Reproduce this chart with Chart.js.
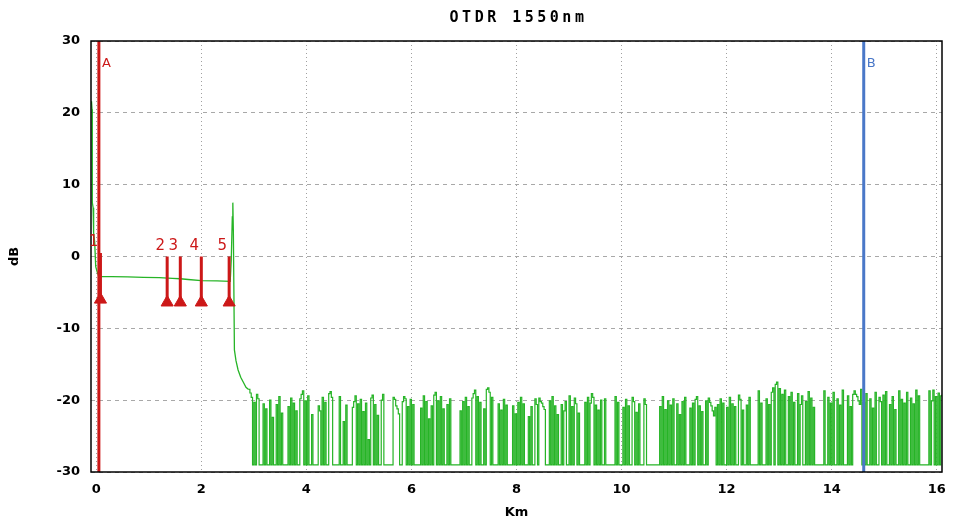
<!DOCTYPE html>
<html>
<head>
<meta charset="utf-8">
<script src="https://cdn.jsdelivr.net/npm/chart.js@4.4.1/dist/chart.umd.min.js"></script>
<style>
  html, body { margin: 0; padding: 0; background: #fff; }
  #wrap { width: 957px; height: 520px; }
</style>
</head>
<body>
<div id="wrap"><canvas id="otdr"></canvas></div>
<script>
var titleText = 'OTDR 1550nm';
var xTicks = [0, 2, 4, 6, 8, 10, 12, 14, 16];
var yTicks = [30, 20, 10, 0, -10, -20, -30];

// launch spike, fibre section, end reflection and fall-off
var headKm = [-0.09, -0.08, -0.075, -0.06, -0.05, -0.03, -0.01, 0.02, 0.05, 0.3, 0.6, 0.9, 1.2, 1.45, 1.6, 1.75, 2.0, 2.3, 2.55,
              2.57, 2.59, 2.6, 2.61, 2.63, 2.66, 2.7, 2.75, 2.8, 2.85, 2.9];
var headDb = [21.6, 20.5, 7.5, 6.8, 3.3, 2.0, -1.4, -2.2, -2.8, -2.8, -2.85, -2.9, -2.95, -3.05, -3.1, -3.2, -3.35, -3.4, -3.45,
              -0.5, 5.5, 7.5, 3.5, -13, -14.5, -15.8, -16.8, -17.5, -18.2, -18.5];

// noise floor after the fibre end, one sample every 0.025 km from 2.9 km
var noiseStart = 2.9;
var noiseStep = 0.025;
var noiseDb = [-18.5,
  -19.0,-19.6,-29,-20.3,-29,-19.2,-19.8,-29,-29,-29, -20.5,-29,-21.2,-29,-29,-20.0,-29,-22.4,-29,-29,
  -20.6,-29,-19.5,-29,-21.8,-29,-29,-29,-29,-20.9, -29,-19.7,-29,-20.4,-29,-21.5,-29,-29,-19.8,-19.2,
  -18.7,-29,-20.1,-29,-19.4,-29,-29,-22.0,-29,-29, -29,-29,-20.8,-21.5,-29,-19.6,-29,-20.3,-29,-29,
  -19.1,-18.8,-19.6,-29,-29,-29,-29,-29,-19.5,-29, -29,-23.0,-29,-20.7,-29,-29,-29,-29,-21.0,-20.2,
  -19.4,-29,-20.5,-29,-19.9,-29,-21.6,-29,-20.4,-29, -25.5,-29,-19.7,-19.3,-29,-20.6,-29,-22.1,-29,-29,
  -20.0,-19.2,-29,-29,-29,-29,-29,-29,-29,-19.6, -19.9,-20.8,-21.2,-21.9,-29,-29,-20.2,-19.5,-19.8,-29,
  -20.9,-29,-19.9,-29,-20.6,-29,-29,-29,-29,-29, -21.1,-29,-19.4,-29,-20.2,-29,-22.6,-29,-20.8,-29,
  -19.3,-18.9,-29,-20.1,-29,-19.5,-29,-21.2,-29,-29, -20.6,-29,-19.8,-29,-29,-29,-29,-29,-29,-29,
  -21.5,-29,-20.2,-29,-19.6,-29,-20.9,-29,-29,-19.7, -19.1,-18.6,-29,-19.5,-29,-20.3,-29,-29,-21.2,-29,
  -18.5,-18.3,-18.9,-29,-19.6,-29,-29,-29,-29,-20.5, -29,-21.4,-29,-19.9,-29,-20.7,-29,-29,-29,-29,
  -20.8,-29,-21.9,-29,-20.3,-29,-19.6,-29,-20.5,-29, -29,-29,-22.3,-29,-20.9,-29,-29,-19.8,-20.6,-29,
  -19.7,-20.2,-20.4,-20.9,-21.3,-29,-29,-29,-20.1,-29, -19.5,-29,-20.8,-29,-22.0,-29,-29,-20.6,-29,-21.5,
  -20.2,-29,-29,-19.4,-29,-20.9,-29,-19.7,-20.5,-29, -21.8,-29,-29,-29,-29,-20.3,-29,-19.6,-29,-20.4,
  -19.1,-19.6,-29,-20.7,-29,-21.4,-29,-20.0,-29,-29, -19.8,-29,-29,-29,-29,-29,-29,-29,-19.5,-29,
  -20.3,-29,-29,-29,-21.0,-29,-19.9,-29,-20.8,-29, -29,-19.6,-20.2,-29,-21.7,-29,-20.5,-29,-29,-29,
  -19.8,-20.6,-29,-29,-29,-29,-29,-29,-29,-29, -29,-29,-20.9,-29,-19.5,-29,-21.3,-29,-20.1,-29,
  -20.7,-29,-19.8,-29,-29,-20.5,-29,-22.0,-29,-20.2, -29,-19.6,-29,-29,-29,-21.1,-29,-20.4,-29,-19.9,
  -19.5,-29,-20.8,-29,-21.6,-29,-29,-20.1,-29,-19.7, -20.3,-20.8,-21.5,-22.2,-21.0,-29,-20.6,-29,-19.8,-29,
  -20.4,-29,-29,-21.0,-29,-19.6,-29,-20.5,-29,-20.9, -29,-29,-19.3,-19.9,-29,-21.4,-29,-29,-20.7,-29,
  -19.6,-29,-29,-29,-29,-29,-29,-18.7,-29,-20.4, -29,-29,-29,-19.8,-29,-20.6,-29,-18.9,-18.3,-29,
  -17.8,-17.5,-29,-18.4,-29,-19.2,-29,-18.6,-29,-29, -19.5,-29,-18.9,-29,-20.3,-29,-29,-19.1,-29,-20.6,
  -19.4,-29,-29,-20.2,-29,-18.8,-29,-19.7,-29,-21.0, -29,-29,-29,-29,-29,-29,-29,-18.7,-29,-29,
  -19.6,-29,-20.4,-29,-18.9,-29,-29,-19.8,-29,-20.7, -29,-18.6,-29,-29,-29,-19.4,-29,-20.9,-29,-19.2,
  -18.7,-19.2,-19.5,-20.1,-20.6,-18.5,-29,-20.3,-29,-19.1, -29,-29,-19.8,-29,-21.1,-29,-18.9,-29,-29,-19.6,
  -20.2,-29,-19.3,-29,-18.8,-29,-29,-20.6,-29,-19.5, -29,-21.3,-29,-29,-18.7,-29,-19.9,-29,-20.4,-29,
  -18.9,-29,-29,-19.7,-29,-20.5,-29,-18.6,-29,-19.4, -29,-29,-29,-29,-29,-29,-29,-18.7,-29,-20.1,
  -18.6,-29,-19.5,-29,-19.0,-29,-19.4,-19.2];

// events
var eventLabels = ['1', '2', '3', '4', '5'];
var eventKm = [0.08, 1.35, 1.6, 2.0, 2.53];
var eventTopDb = [0.5, 0, 0, 0, 0];
var eventBottomDb = [-6.0, -6.4, -6.4, -6.4, -6.4];

// cursors
var cursorLabels = ['A', 'B'];
var cursorKm = [0.05, 14.61];

var green = '#26b426';
var red = '#cc1818';
var blue = '#4a78c8';
var cursorColors = [red, blue];

var head = headKm.map(function (k, i) { return { x: k, y: headDb[i] }; });
var noise = noiseDb.map(function (v, i) { return { x: noiseStart + i * noiseStep, y: v }; });

var datasets = [];
cursorKm.forEach(function (k, i) {
  datasets.push({
    data: [{ x: k, y: 30 }, { x: k, y: -30 }],
    borderColor: cursorColors[i], borderWidth: 3, pointRadius: 0, order: 1
  });
});
eventKm.forEach(function (k, i) {
  datasets.push({
    data: [{ x: k, y: eventTopDb[i] }, { x: k, y: eventBottomDb[i] }],
    borderColor: red, borderWidth: 3,
    pointRadius: [0, 7], pointStyle: 'triangle',
    pointBackgroundColor: red, pointBorderColor: red, pointBorderWidth: 1,
    order: 1
  });
});
datasets.push({ data: head, borderColor: green, borderWidth: 1.3, pointRadius: 0, order: 2 });
datasets.push({ data: noise, borderColor: green, borderWidth: 1.2, pointRadius: 0, stepped: true, order: 2 });

var overlay = {
  id: 'overlay',
  afterDraw: function (chart) {
    var ctx = chart.ctx, a = chart.chartArea, x = chart.scales.x, y = chart.scales.y;
    ctx.save();
    ctx.strokeStyle = '#000';
    ctx.lineWidth = 1.5;
    ctx.strokeRect(a.left, a.top, a.right - a.left, a.bottom - a.top);

    ctx.fillStyle = '#000';
    ctx.font = 'bold 15px "DejaVu Sans Mono"';
    ctx.letterSpacing = '3.5px';
    ctx.textAlign = 'center';
    ctx.textBaseline = 'middle';
    ctx.fillText(titleText, (a.left + a.right) / 2 + 2, 18);
    ctx.letterSpacing = '0px';

    ctx.font = '15px "DejaVu Sans"';
    ctx.fillStyle = red;
    eventKm.forEach(function (k, i) {
      var py = i === 0 ? y.getPixelForValue(2) : y.getPixelForValue(1.4);
      ctx.fillText(eventLabels[i], x.getPixelForValue(k) - 7, py);
    });

    ctx.font = '13px "DejaVu Sans"';
    ctx.textAlign = 'left';
    cursorKm.forEach(function (k, i) {
      ctx.fillStyle = cursorColors[i];
      ctx.fillText(cursorLabels[i], x.getPixelForValue(k) + 3, y.getPixelForValue(26.8));
    });
    ctx.restore();
  }
};

new Chart(document.getElementById('otdr'), {
  type: 'line',
  data: { datasets: datasets },
  options: {
    responsive: true,
    maintainAspectRatio: false,
    animation: false,
    layout: { padding: { top: 41, right: 15, left: 0, bottom: 0 } },
    plugins: {
      legend: { display: false },
      tooltip: { enabled: false },
      title: { display: false }
    },
    scales: {
      x: {
        type: 'linear',
        min: -0.1,
        max: 16.1,
        afterBuildTicks: function (s) { s.ticks = xTicks.map(function (v) { return { value: v }; }); },
        afterFit: function (s) { s.height = 48; },
        grid: { color: '#a0a0a0', lineWidth: 1, drawTicks: false },
        border: { display: false, dash: [1, 3] },
        ticks: { color: '#000', padding: 10, font: { family: 'DejaVu Sans', size: 13, weight: 'bold' } },
        title: { display: true, text: 'Km', color: '#000', padding: { top: 1, bottom: 0 },
                 font: { family: 'DejaVu Sans', size: 13, weight: 'bold' } }
      },
      y: {
        min: -30,
        max: 30,
        afterBuildTicks: function (s) { s.ticks = yTicks.map(function (v) { return { value: v }; }); },
        afterFit: function (s) { s.width = 91; },
        grid: { color: '#a8a8a8', lineWidth: 1, drawTicks: false },
        border: { display: false, dash: [4, 4] },
        ticks: { color: '#000', padding: 11, font: { family: 'DejaVu Sans', size: 13, weight: 'bold' } },
        title: { display: true, text: 'dB', color: '#000', padding: { top: 7, bottom: 0 },
                 font: { family: 'DejaVu Sans', size: 13, weight: 'bold' } }
      }
    }
  },
  plugins: [overlay]
});
</script>
</body>
</html>
